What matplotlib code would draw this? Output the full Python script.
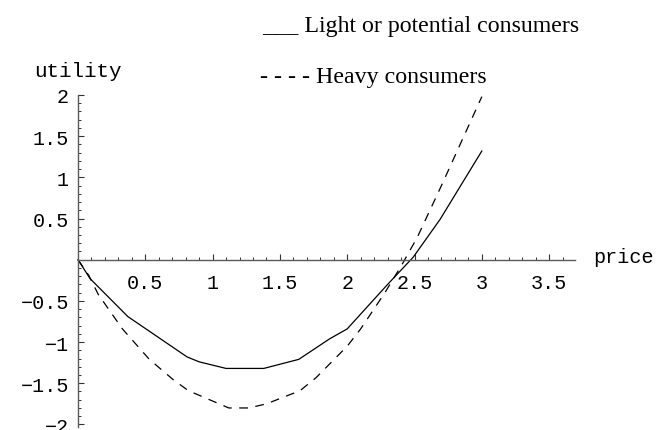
import matplotlib
matplotlib.use("Agg")
import matplotlib.pyplot as plt
from matplotlib.ticker import MultipleLocator, FixedLocator

# solid curve: light or potential consumers
light_price = [0, 0.09, 0.37, 0.81, 0.90, 1.10, 1.38, 1.64, 1.87, 2.00, 2.30, 2.49, 2.69, 3.00]
light_util = [0, -0.23, -0.69, -1.18, -1.24, -1.32, -1.32, -1.21, -0.96, -0.84, -0.30, 0.03, 0.49, 1.32]
# dashed curve: heavy consumers
heavy_price = [0, 0.08, 0.15, 0.24, 0.33, 0.53, 0.71, 0.82, 1.12, 1.27, 1.40, 1.65, 1.77,
               2.00, 2.10, 2.28, 2.41, 2.52, 2.70, 3.00]
heavy_util = [0, -0.19, -0.42, -0.63, -0.84, -1.21, -1.46, -1.59, -1.80, -1.80, -1.75, -1.59, -1.43,
              -1.05, -0.84, -0.40, -0.05, 0.27, 0.90, 1.98]

x_ticks = [0.5, 1, 1.5, 2, 2.5, 3, 3.5]
x_labels = ["0.5", "1", "1.5", "2", "2.5", "3", "3.5"]
y_ticks = [-2, -1.5, -1, -0.5, 0.5, 1, 1.5, 2]
y_labels = ["\u22122", "\u22121.5", "\u22121", "\u22120.5", "0.5", "1", "1.5", "2"]

W, H = 658, 431
MONO = ["Liberation Mono", "DejaVu Sans Mono"]
SERIF = ["Liberation Serif", "DejaVu Serif"]
AXC = "#5a5a5a"

fig = plt.figure(figsize=(W/100, H/100), dpi=100)
# pixel box of the axes: x 0..3.69 -> 78..574.7, y -2.03..2 -> 427.9..96
x0, x1 = 78, 574.7
ytop, ybot = 96, 427.9
ax = fig.add_axes([x0/W, (H-ybot)/H, (x1-x0)/W, (ybot-ytop)/H])
ax.set_xlim(0, 3.69)
ax.set_ylim(-2.03, 2.0)

ax.plot(light_price, light_util, color="black", lw=0.9, clip_on=False)
ax.plot(heavy_price, heavy_util, color="black", lw=0.9, ls=(0, (7, 6)), clip_on=False)

for s in ("top", "right"):
    ax.spines[s].set_visible(False)
ax.spines["left"].set_position(("data", 0))
ax.spines["bottom"].set_position(("data", 0))
for s in ("left", "bottom"):
    ax.spines[s].set_color(AXC)
    ax.spines[s].set_linewidth(1.0)

ax.xaxis.set_major_locator(FixedLocator(x_ticks))
ax.xaxis.set_minor_locator(MultipleLocator(0.1))
ax.yaxis.set_major_locator(FixedLocator(y_ticks))
ax.yaxis.set_minor_locator(MultipleLocator(0.1))
ax.set_xticklabels(x_labels, family=MONO, fontsize=14.5)
ax.set_yticklabels(y_labels, family=MONO, fontsize=14.5)
ax.tick_params(which="major", direction="in", length=4.5, width=0.8, color="#333333")
ax.tick_params(which="minor", direction="in", length=2.5, width=0.7, color="#333333")
ax.tick_params(axis="x", which="major", pad=9.5)
ax.tick_params(axis="y", which="major", pad=6.5)

def px(x, y):
    return x/W, 1 - y/H

fig.text(*px(77.5, 77), "utility", family=MONO, fontsize=15, ha="center", va="baseline")
fig.text(*px(593, 263), "price", family=MONO, fontsize=14.5, ha="left", va="baseline")
fig.text(*px(262, 32), "___ Light or potential consumers", family=SERIF, fontsize=17.2,
         ha="left", va="baseline")
fig.text(*px(260, 83), "- - - - Heavy consumers", family=SERIF, fontsize=17.2,
         ha="left", va="baseline")

fig.savefig("out.png", dpi=100, facecolor="white")
